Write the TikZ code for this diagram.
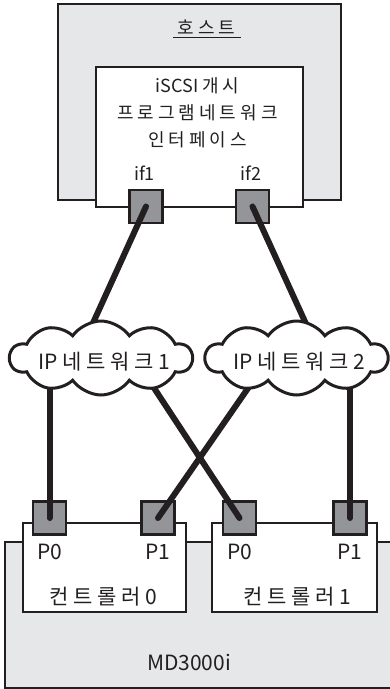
\documentclass[tikz,border=0pt]{standalone}
\usepackage{fontspec}
\setmainfont{Noto Sans CJK KR}
\newfontfamily\hg{Noto Sans CJK KR}[LetterSpace=22]
\usetikzlibrary{shapes.symbols}

\definecolor{ink}{HTML}{231F20}
\definecolor{boxgray}{HTML}{E6E7E8}
\definecolor{portgray}{HTML}{939598}

\tikzset{
    box/.style={draw=ink, line width=2.2pt},
    port/.style={draw=ink, fill=portgray, line width=2.2pt, minimum size=33pt, inner sep=0pt},
    wire/.style={draw=ink, line width=6pt, line cap=round},
    net/.style={cloud, cloud puffs=10, cloud puff arc=110, draw=ink, fill=white, line width=3pt,
        minimum width=182pt, minimum height=74pt, inner sep=0pt},
    lbl/.style={inner sep=0pt, text=ink},
}

\begin{document}
\begin{tikzpicture}[x=1pt, y=-1pt]
    \useasboundingbox (0, 0) rectangle (390, 689);

    % host and its initiator
    \draw[box, fill=boxgray] (58, 4) rectangle (341, 200);
    \draw[box, fill=white] (96, 67) rectangle (303, 207);
    \node[lbl, font=\fontsize{18}{18}\selectfont] (host) at (206.5, 27) {\hg 호스트};
    \draw[ink, line width=1.3pt] (173, 37.5) -- (240.5, 37.5);
    \node[lbl, align=center, font=\fontsize{18}{27}\selectfont] (init) at (197.5, 113)
        {iSCSI {\hg 개시}\\{\hg 프로그램네트워크}\\{\hg 인터페이스}};

    % storage array and controllers
    \draw[box, fill=boxgray] (5, 542) rectangle (396, 688);
    \draw[box, fill=white] (23, 523) rectangle (186, 612);
    \draw[box, fill=white] (212, 523) rectangle (377, 612);
    \node[lbl, font=\fontsize{21}{21}\selectfont] (ctrl0) at (103, 597) {{\hg 컨트롤러} 0};
    \node[lbl, font=\fontsize{21}{21}\selectfont] (ctrl1) at (297, 597) {{\hg 컨트롤러} 1};
    \node[lbl, font=\fontsize{21}{21}\selectfont] (array) at (189, 662) {MD3000i};

    % ports
    \foreach \n/\x/\t in {if1/146/if1, if2/252.5/if2} {
        \node[port] (\n) at (\x, 206.5) {};
        \node[lbl, font=\fontsize{18}{18}\selectfont] (l\n) at (\x-1.5, 173) {\t};
    }
    \foreach \n/\x/\t in {c0p0/49.5/P0, c0p1/158/P1, c1p0/239.5/P0, c1p1/350/P1} {
        \node[port] (\n) at (\x, 518) {};
        \node[lbl, font=\fontsize{21}{21}\selectfont] (l\n) at (\x, 552) {\t};
    }

    % wire ends, hidden under the clouds
    \coordinate (n1a) at (88, 334);
    \coordinate (n1b) at (49.5, 376);
    \coordinate (n1c) at (145.5, 375);
    \coordinate (n2a) at (312, 337);
    \coordinate (n2b) at (256.5, 376);
    \coordinate (n2c) at (350, 376);

    \draw[wire] (if1.center) -- (n1a);
    \draw[wire] (if2.center) -- (n2a);
    \draw[wire] (c0p0.center) -- (n1b);
    \draw[wire] (c1p0.center) -- (n1c);
    \draw[wire] (c0p1.center) -- (n2b);
    \draw[wire] (c1p1.center) -- (n2c);

    % networks
    \node[net] (net1) at (101, 358) {};
    \node[net] (net2) at (296.5, 358) {};
    \node[lbl, font=\fontsize{21}{21}\selectfont] (lnet1) at (104, 362) {IP {\hg 네트워크} 1};
    \node[lbl, font=\fontsize{21}{21}\selectfont] (lnet2) at (299.5, 362) {IP {\hg 네트워크} 2};
\end{tikzpicture}
\end{document}
